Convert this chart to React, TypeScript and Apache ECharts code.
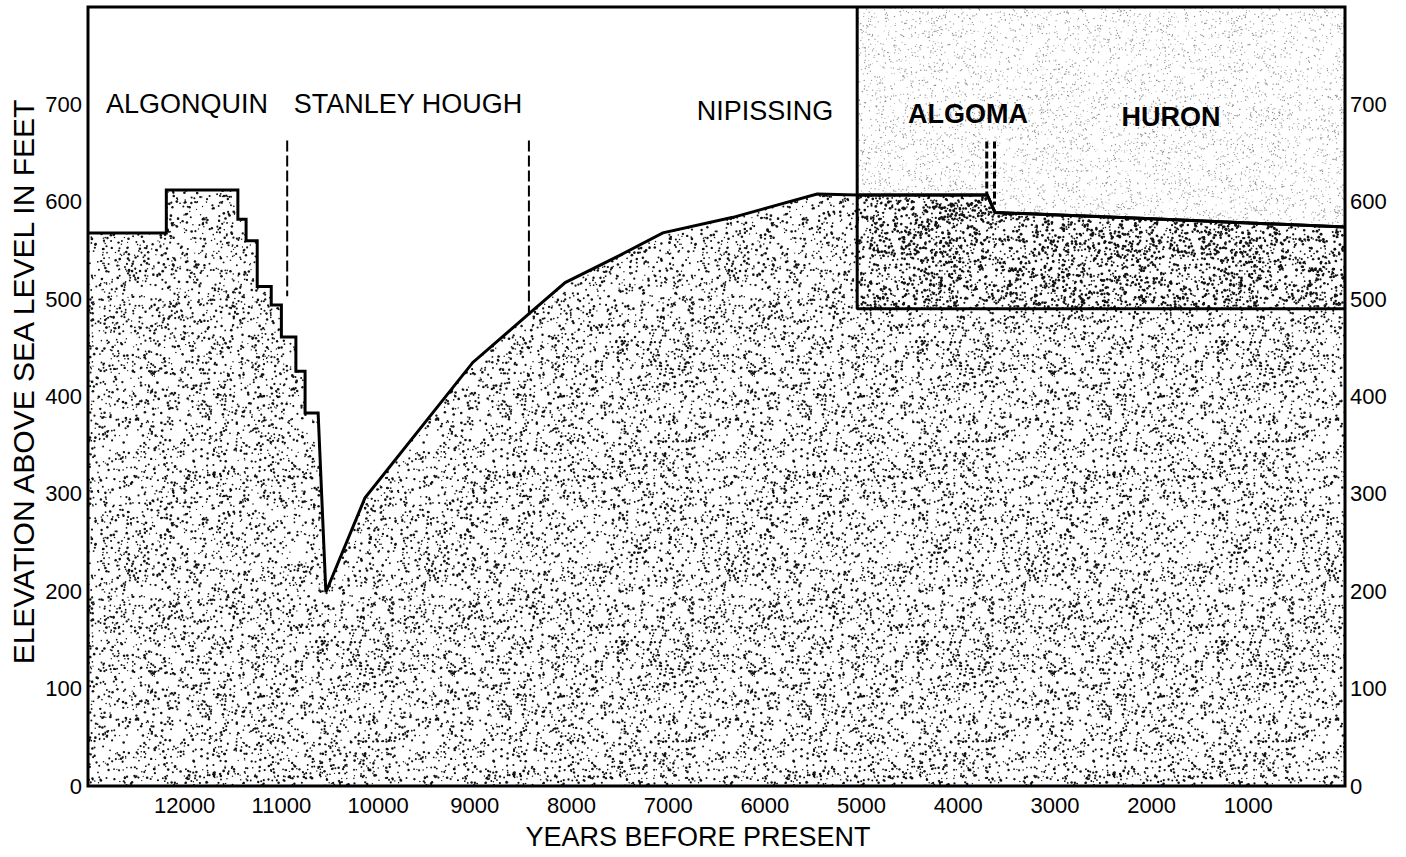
import React, { useEffect, useRef } from "react";
import * as echarts from "echarts";

// ---- data ----
const levelYears = [13000, 12190, 12190, 11450, 11450, 11365, 11365, 11250, 11250, 11105, 11105, 11000, 11000, 10850, 10850, 10755, 10755, 10620, 10540, 10135, 9020, 8450, 8065, 7500, 7055, 6330, 5460, 5045, 3700, 3620, 2120, 0];
const levelFeet = [568, 568, 612, 612, 582, 582, 560, 560, 513, 513, 494, 494, 461, 461, 426, 426, 383, 383, 199, 296, 435, 484, 517, 545, 568, 584, 608, 607, 607, 589, 583, 574];

const boxYears = [5045, 0];
const boxBottomFeet = 490;
const boxTopFeet = 800;

const dashYears = [10940, 8440];
const dashFeet = [[663, 503], [663, 484]];
const doubleDashYears = [3705, 3625];
const doubleDashFeet = [[662, 607], [662, 597]];

const lakeNames = ["ALGONQUIN", "STANLEY HOUGH", "NIPISSING", "ALGOMA", "HURON"];

const xMin = 0;
const xMax = 13000;
const xInterval = 1000;
const yMin = 0;
const yMax = 800;
const yInterval = 100;

const xTitle = "YEARS BEFORE PRESENT";
const yTitle = "ELEVATION ABOVE SEA LEVEL IN FEET";

// ---- layout / styles ----
const W = 1406;
const H = 857;
const GRID = { left: 88, right: 61, top: 7, bottom: 71 };
const FONT = '"Liberation Sans", Arial, Helvetica, sans-serif';
const namePos = [
  { x: 187, y: 104, bold: false },
  { x: 408, y: 104, bold: false },
  { x: 765, y: 111, bold: false },
  { x: 968, y: 114, bold: true },
  { x: 1171, y: 117, bold: true },
];

function makeStipple(size: number, count: number, rMin: number, rMax: number, color: string, seed: number) {
  const c = document.createElement("canvas");
  c.width = size;
  c.height = size;
  const ctx = c.getContext("2d")!;
  ctx.fillStyle = "#ffffff";
  ctx.fillRect(0, 0, size, size);
  let s = seed >>> 0;
  const rnd = () => {
    s = (Math.imul(s, 1664525) + 1013904223) >>> 0;
    return s / 4294967296;
  };
  ctx.fillStyle = color;
  for (let i = 0; i < count; i++) {
    const x = rnd() * size;
    const y = rnd() * size;
    const r = rMin + rnd() * (rMax - rMin);
    for (const dx of [-size, 0, size]) {
      for (const dy of [-size, 0, size]) {
        const px = x + dx;
        const py = y + dy;
        if (px < -3 || py < -3 || px > size + 3 || py > size + 3) continue;
        ctx.beginPath();
        ctx.arc(px, py, r, 0, Math.PI * 2);
        ctx.fill();
      }
    }
  }
  return { image: c, repeat: "repeat", imageWidth: size, imageHeight: size } as any;
}

export default function App() {
  const ref = useRef<HTMLDivElement>(null);

  useEffect(() => {
    if (!ref.current) return;
    const chart = echarts.init(ref.current, undefined, { renderer: "svg", width: W, height: H });

    const mainPattern = makeStipple(300, 3700, 0.65, 1.35, "#111", 12345);
    const darkPattern = makeStipple(300, 6200, 0.75, 1.5, "#111", 987);
    const lightPattern = makeStipple(300, 4800, 0.45, 0.75, "#8f8f8f", 4242);

    const mainData = levelYears.map((y, i) => [y, levelFeet[i]]);
    const boxCurve = mainData.filter((p) => p[0] <= boxYears[0]);

    const lineBase = { type: "line", symbol: "none", silent: true, smooth: false, xAxisIndex: 0, yAxisIndex: 0 };

    const series: any[] = [
      {
        ...lineBase,
        name: "box-upper",
        data: [[boxYears[0], boxTopFeet], [boxYears[1], boxTopFeet]],
        lineStyle: { width: 0 },
        areaStyle: { color: lightPattern, opacity: 1, origin: boxBottomFeet },
      },
      {
        ...lineBase,
        name: "lake level",
        data: mainData,
        lineStyle: { color: "#000", width: 3, join: "miter" },
        areaStyle: { color: mainPattern, opacity: 1 },
      },
      {
        ...lineBase,
        name: "box-lower",
        data: boxCurve,
        lineStyle: { color: "#000", width: 3 },
        areaStyle: { color: darkPattern, opacity: 1, origin: boxBottomFeet },
      },
      {
        ...lineBase,
        name: "box-border",
        data: [[boxYears[0], boxTopFeet], [boxYears[0], boxBottomFeet], [boxYears[1], boxBottomFeet]],
        lineStyle: { color: "#000", width: 3 },
      },
      ...dashYears.map((yr, i) => ({
        ...lineBase,
        name: "dash" + i,
        data: [[yr, dashFeet[i][0]], [yr, dashFeet[i][1]]],
        lineStyle: { color: "#000", width: 2, type: [11, 4] },
      })),
      ...doubleDashYears.map((yr, i) => ({
        ...lineBase,
        name: "ddash" + i,
        data: [[yr, doubleDashFeet[i][0]], [yr, doubleDashFeet[i][1]]],
        lineStyle: { color: "#000", width: 3, type: [7, 3] },
      })),
    ];

    const yAxisCommon = {
      type: "value",
      min: yMin,
      max: yMax,
      interval: yInterval,
      splitLine: { show: false },
      axisTick: { show: false },
      axisLine: { show: false },
    };

    const graphics: any[] = [
      {
        type: "rect",
        z: 100,
        silent: true,
        shape: { x: GRID.left, y: GRID.top, width: W - GRID.left - GRID.right, height: H - GRID.top - GRID.bottom },
        style: { fill: "none", stroke: "#000", lineWidth: 3 },
      },
      ...lakeNames.map((t, i) => ({
        type: "text",
        z: 101,
        silent: true,
        x: namePos[i].x,
        y: namePos[i].y,
        style: {
          text: t,
          fill: "#000",
          font: `${namePos[i].bold ? "bold " : ""}27px ${FONT}`,
          align: "center",
          verticalAlign: "middle",
          textAlign: "center",
          textVerticalAlign: "middle",
        },
      })),
      {
        type: "text",
        z: 101,
        silent: true,
        x: 698,
        y: 837,
        style: {
          text: xTitle,
          fill: "#000",
          font: `27px ${FONT}`,
          align: "center",
          verticalAlign: "middle",
          textAlign: "center",
          textVerticalAlign: "middle",
        },
      },
      {
        type: "text",
        z: 101,
        silent: true,
        x: 23,
        y: 382,
        rotation: Math.PI / 2,
        style: {
          text: yTitle,
          fill: "#000",
          font: `30px ${FONT}`,
          align: "center",
          verticalAlign: "middle",
          textAlign: "center",
          textVerticalAlign: "middle",
        },
      },
    ];

    chart.setOption({
      animation: false,
      backgroundColor: "#ffffff",
      grid: { ...GRID, containLabel: false, show: true, backgroundColor: "#ffffff", borderWidth: 0 },
      xAxis: {
        type: "value",
        inverse: true,
        min: xMin,
        max: xMax,
        interval: xInterval,
        splitLine: { show: false },
        axisTick: { show: false },
        axisLine: { show: false },
        axisLabel: {
          margin: 8,
          color: "#000",
          fontSize: 22,
          fontFamily: FONT,
          formatter: (v: number) => (v === xMin || v === xMax ? "" : String(v)),
        },
      },
      yAxis: [
        {
          ...yAxisCommon,
          position: "left",
          axisLabel: {
            margin: 6,
            color: "#000",
            fontSize: 22,
            fontFamily: FONT,
            formatter: (v: number) => (v === yMax ? "" : String(v)),
          },
        },
        {
          ...yAxisCommon,
          position: "right",
          axisLabel: {
            margin: 5,
            color: "#000",
            fontSize: 22,
            fontFamily: FONT,
            formatter: (v: number) => (v === yMax ? "" : String(v)),
          },
        },
      ],
      series,
      graphic: graphics,
    });

    return () => {
      chart.dispose();
    };
  }, []);

  return (
    <div
      ref={ref}
      style={{ position: "fixed", left: 0, top: 0, width: W, height: H, background: "#fff" }}
    />
  );
}
